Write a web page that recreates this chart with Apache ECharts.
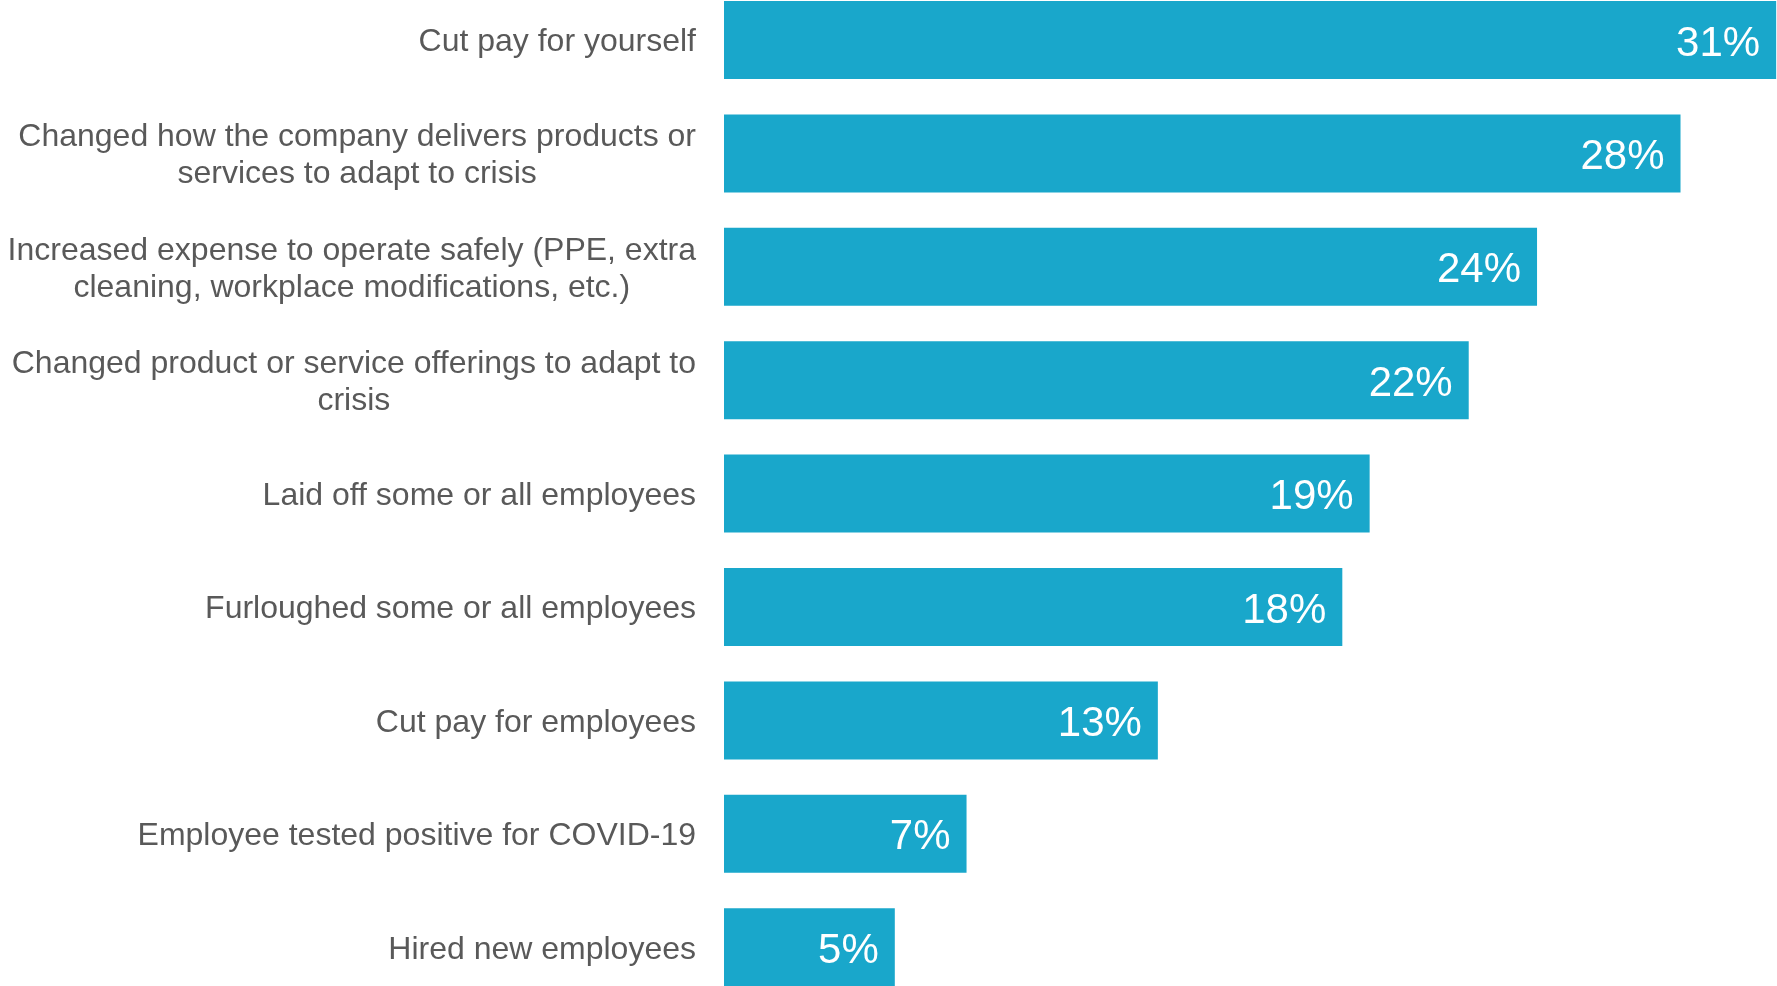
<!DOCTYPE html>
<html>
<head>
<meta charset="utf-8">
<script src="https://cdn.jsdelivr.net/npm/echarts@6/dist/echarts.min.js"></script>
<style>
html,body{margin:0;padding:0;background:#fff;}
#chart{width:1777px;height:986px;}
</style>
</head>
<body>
<div id="chart"></div>
<script>
var categories = [
  "Cut pay for yourself",
  "Changed how the company delivers products or\nservices to adapt to crisis",
  "Increased expense to operate safely (PPE, extra\ncleaning, workplace modifications, etc.)",
  "Changed product or service offerings to adapt to\ncrisis",
  "Laid off some or all employees",
  "Furloughed some or all employees",
  "Cut pay for employees",
  "Employee tested positive for COVID-19",
  "Hired new employees"
];
var values = [30.8, 28.0, 23.8, 21.8, 18.9, 18.1, 12.7, 7.1, 5.0];

var FONT = "'Liberation Sans', Arial, sans-serif";
var chart = echarts.init(document.getElementById('chart'), null, {renderer: 'canvas'});
chart.setOption({
  animation: false,
  backgroundColor: '#ffffff',
  grid: { left: 724, right: -6, top: -16.7, bottom: -17.9, containLabel: false, outerBoundsMode: 'none' },
  xAxis: { type: 'value', min: 0, max: 31, show: false },
  yAxis: {
    type: 'category',
    inverse: true,
    data: categories,
    axisLine: { show: false },
    axisTick: { show: false },
    splitLine: { show: false },
    axisLabel: {
      margin: 28,
      align: 'right',
      padding: [5, 0, 0, 0],
      formatter: function (v) {
        return v.split('\n').map(function (l) { return '{c|' + l + '}'; }).join('\n');
      },
      rich: {
        c: { align: 'center', fontSize: 32, lineHeight: 37, color: '#595959', fontFamily: FONT }
      }
    }
  },
  series: [{
    type: 'bar',
    data: values,
    barWidth: 78,
    clip: true,
    itemStyle: { color: '#19A7CB' },
    label: {
      show: true,
      position: 'insideRight',
      distance: 16,
      offset: [0, 4],
      color: '#ffffff',
      fontSize: 42,
      fontFamily: FONT,
      formatter: function (p) { return Math.round(p.value) + '%'; }
    }
  }]
});
</script>
</body>
</html>
